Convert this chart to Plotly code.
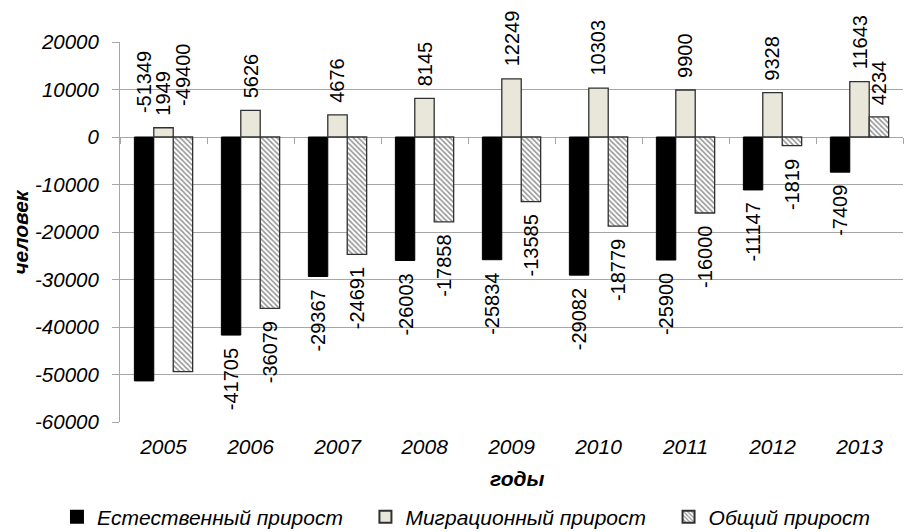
import plotly.graph_objects as go

years = ['2005', '2006', '2007', '2008', '2009', '2010', '2011', '2012', '2013']
natural = [-51349, -41705, -29367, -26003, -25834, -29082, -25900, -11147, -7409]
migration = [1949, 5626, 4676, 8145, 12249, 10303, 9900, 9328, 11643]
total = [-49400, -36079, -24691, -17858, -13585, -18779, -16000, -1819, 4234]
series_names = ['Естественный прирост', 'Миграционный прирост', 'Общий прирост']
y_ticks = [-60000, -50000, -40000, -30000, -20000, -10000, 0, 10000, 20000]

FONT = 'Arial, Liberation Sans, sans-serif'
GRID = '#a6a6a6'
PAD = '\u00a0' * 3

fig = go.Figure()
fig.add_trace(go.Bar(x=years, y=natural, name=series_names[0] + PAD,
                     marker=dict(color='#000000', line=dict(color='#000000', width=1))))
fig.add_trace(go.Bar(x=years, y=migration, name=series_names[1] + PAD,
                     marker=dict(color='#e9e7da', line=dict(color='#303030', width=1.3))))
fig.add_trace(go.Bar(x=years, y=total, name=series_names[2],
                     marker=dict(color='#ffffff', line=dict(color='#303030', width=1.3),
                                 pattern=dict(shape='\\', fgcolor='#2a2a2a', bgcolor='#ffffff',
                                              size=3.6, solidity=0.45))))
# invisible trace to carry the boundary tick marks along the zero line
fig.add_trace(go.Scatter(x=years, y=[0] * len(years), xaxis='x2', showlegend=False,
                         hoverinfo='skip', mode='markers', marker=dict(opacity=0)))

# data labels (x given as category index on the categorical axis)
barw = 19.4
annotations = []
for k, vals in enumerate([natural, migration, total]):
    for i, v in enumerate(vals):
        shift = (k - 1) * barw
        base = dict(x=i, xref='x', yref='y', text=str(v), textangle=-90, showarrow=False,
                    xshift=shift, font=dict(family=FONT, size=20, color='#000'))
        if i == 0 and v < 0:
            # labels that do not fit below are placed above the zero line
            base.update(y=0, yanchor='bottom', yshift=22 if k == 0 else 29)
        elif v >= 0:
            base.update(y=v, yanchor='bottom', yshift=10)
        else:
            base.update(y=v, yanchor='top', yshift=-11)
        annotations.append(base)

annotations.append(dict(text='<b><i>годы</i></b>', x=0.507, y=-0.15, xref='paper', yref='paper',
                        showarrow=False, xanchor='center', yanchor='middle',
                        font=dict(family=FONT, size=21, color='#000')))
annotations.append(dict(text='<b><i>человек</i></b>', x=-0.128, y=0.5, xref='paper', yref='paper',
                        showarrow=False, textangle=-90, xanchor='center', yanchor='middle',
                        font=dict(family=FONT, size=21, color='#000')))

xr = [-0.5, len(years) - 0.5]
fig.update_layout(
    width=905, height=532,
    margin=dict(l=120, r=2, t=42, b=110, autoexpand=False),
    paper_bgcolor='white', plot_bgcolor='white',
    barmode='group', bargap=0.33, bargroupgap=0,
    font=dict(family=FONT, color='#000'),
    annotations=annotations,
    legend=dict(orientation='h', x=-0.0805, xanchor='left', y=-0.25, yanchor='middle',
                font=dict(family=FONT, size=21, color='#000', style='italic'),
                itemsizing='constant', itemwidth=30),
    xaxis=dict(type='category', categoryorder='array', categoryarray=years, range=xr,
               showgrid=False, showline=False, ticks='',
               tickfont=dict(family=FONT, size=21, color='#000', style='italic'),
               ticklabelstandoff=10, zeroline=False),
    xaxis2=dict(type='category', categoryorder='array', categoryarray=years, range=xr,
                overlaying='x', anchor='free', position=0.75,
                side='bottom', showticklabels=False, ticks='outside', tickson='boundaries',
                ticklen=6, tickcolor=GRID, tickwidth=1, showgrid=False, showline=False,
                zeroline=False),
    yaxis=dict(range=[-60000, 20000], tickvals=y_ticks, ticktext=[str(t) for t in y_ticks],
               showgrid=True, gridcolor=GRID, gridwidth=1,
               zeroline=True, zerolinecolor=GRID, zerolinewidth=1,
               showline=True, linecolor=GRID, linewidth=1,
               ticks='outside', ticklen=7, tickcolor=GRID,
               tickfont=dict(family=FONT, size=20.5, color='#000', style='italic'),
               ticklabelstandoff=9),
)

fig.write_html('out.html', config={'displayModeBar': False},
               post_script="document.body.style.margin='0px';")
